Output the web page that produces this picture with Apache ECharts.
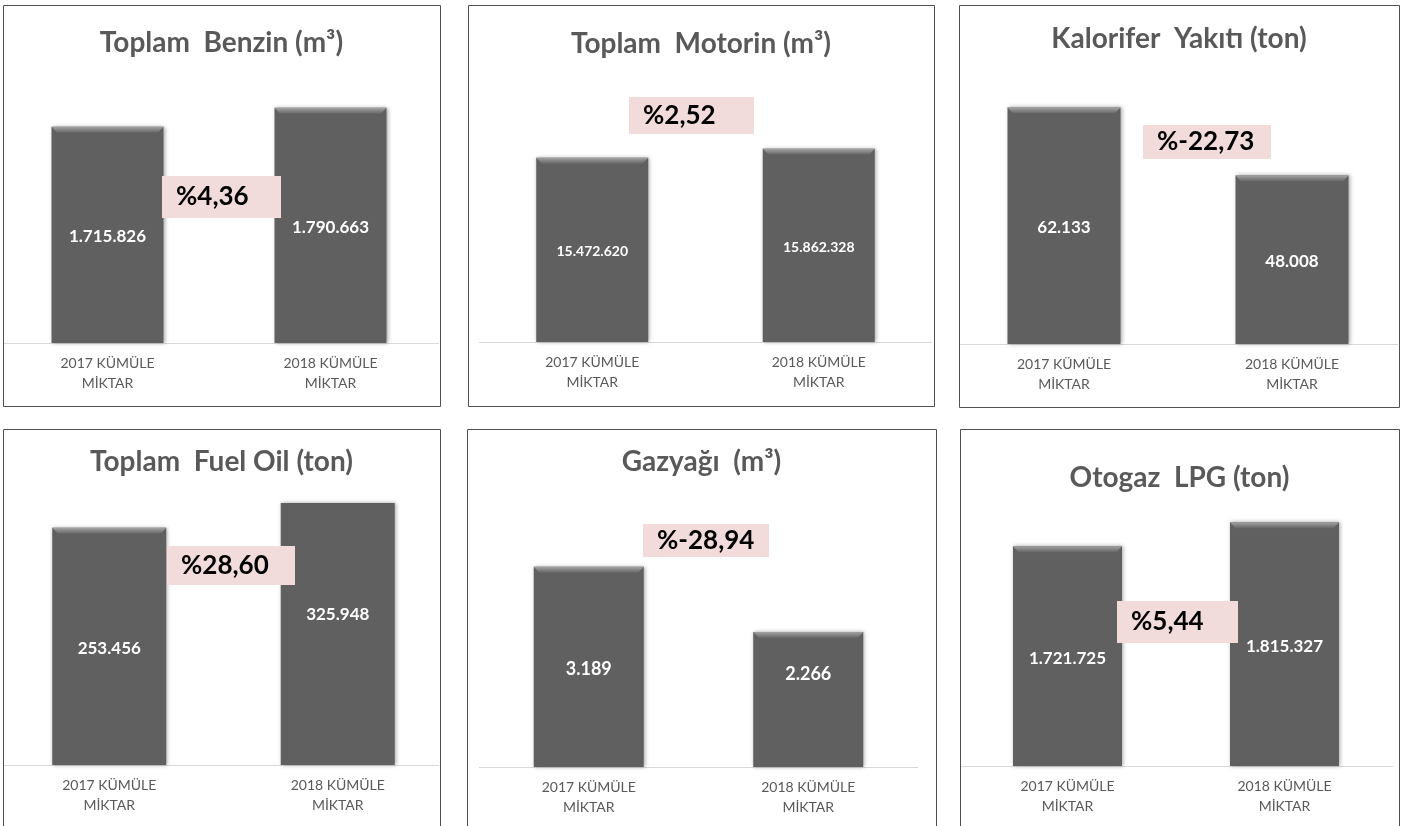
<!DOCTYPE html>
<html>
<head>
<meta charset="utf-8">
<script src="https://cdn.jsdelivr.net/npm/echarts@6/dist/echarts.min.js"></script>
<style>
html,body{margin:0;padding:0;background:#fff;}
#c{width:1419px;height:826px;}
</style>
</head>
<body>
<div id="c"></div>
<script>
// ---- data ----
const categories = ['2017 KÜMÜLE\nMİKTAR', '2018 KÜMÜLE\nMİKTAR'];
const titles = ['Toplam  Benzin (m³)', 'Toplam  Motorin (m³)', 'Kalorifer  Yakıtı (ton)',
                'Toplam  Fuel Oil (ton)', 'Gazyağı  (m³)', 'Otogaz  LPG (ton)'];
const benzin    = [1715826, 1790663];
const motorin   = [15472620, 15862328];
const kalorifer = [62133, 48008];
const fuelOil   = [253456, 325948];
const gazyagi   = [3189, 2266];
const otogaz    = [1721725, 1815327];
const seriesValues = [benzin, motorin, kalorifer, fuelOil, gazyagi, otogaz];

// ---- layout (positions / styles only) ----
const panels = [
  {border:[3,5,440,406],   base:343, gx:[-4,442],   top:60,  min:860000,  max:1980000,  barW:112, titleY:43,  lab:17, labOff:[2,2],   box:[162,176,281,218]},
  {border:[468,5,934,406], base:342, gx:[479,932],  top:60,  min:7500000, max:19700000, barW:112, titleY:44,  lab:14, labOff:[2,2],   box:[629,97,754,134]},
  {border:[959,5,1399,407],base:344, gx:[950,1406], top:60,  min:13000,   max:72000,    barW:113, titleY:39,  lab:17, labOff:[2,2],   box:[1143,125,1271,159]},
  {border:[3,429,440,840], base:765, gx:[-5,452],   top:503, min:0,       max:280000,   barW:114, titleY:462, lab:17, labOff:[2,2],   box:[167,546,295,585]},
  {border:[467,429,936,840],base:767,gx:[479,918],  top:480, min:350,     max:4420,     barW:110, titleY:462, lab:18, labOff:[2,-25], box:[643,524,769,557]},
  {border:[960,429,1399,840],base:766,gx:[959,1393],top:480, min:864000,  max:1980000,  barW:109, titleY:478, lab:17, labOff:[2,2],   box:[1117,601,1238,643]}
];

const FONT = 'Lato, "Open Sans", sans-serif';
const fmt = v => String(v).replace(/\B(?=(\d{3})+(?!\d))/g, '.');
const pct = d => '%' + ((d[1] / d[0] - 1) * 100).toFixed(2).replace('.', ',');

const grid = [], xAxis = [], yAxis = [], series = [], graphic = [];
panels.forEach((p, i) => {
  const data = seriesValues[i];
  const overflow = data.some(v => v > p.max);
  grid.push({left: p.gx[0], width: p.gx[1] - p.gx[0], top: p.top, height: p.base - p.top,
             outerBoundsMode: 'none', containLabel: false});
  xAxis.push({type: 'category', gridIndex: i, data: categories,
    axisLine: {show: false}, axisTick: {show: false},
    axisLabel: {color: '#595959', fontFamily: FONT, fontSize: 14, lineHeight: 20, margin: 10, interval: 0}});
  yAxis.push({type: 'value', gridIndex: i, min: p.min, max: p.max, show: false, splitLine: {show: false}});
  series.push({type: 'bar', xAxisIndex: i, yAxisIndex: i, data: data, barWidth: p.barW, clip: true,
    itemStyle: {color: '#606060', shadowBlur: 4, shadowColor: 'rgba(0,0,0,0.35)', shadowOffsetX: 1},
    silent: true, animation: false});
  // label carrier: full (unclipped) bar when a value runs past the axis top, so the label sits mid-bar
  series.push({type: 'bar', xAxisIndex: i, yAxisIndex: i,
    data: data.map((v, j) => ({value: v, label: {offset: [0, p.labOff[j]]}})),
    barWidth: p.barW, barGap: '-100%',
    clip: !overflow,
    itemStyle: {color: 'rgba(0,0,0,0)'},
    label: {show: true, position: 'inside', color: '#fff', fontFamily: FONT, fontWeight: 'bold', fontSize: p.lab,
            formatter: o => fmt(o.value)},
    silent: true, animation: false, z: 5});
  series.push({type: 'pictorialBar', xAxisIndex: i, yAxisIndex: i,
    data: data.map(v => v > p.max ? '-' : v),
    symbol: 'path://M0,0 L100,0 L95,10 L5,10 Z', symbolSize: [p.barW, 6], symbolPosition: 'end',
    symbolOffset: [0, 0],
    itemStyle: {color: {type: 'linear', x: 0, y: 0, x2: 0, y2: 1,
      colorStops: [{offset: 0, color: '#a4a4a4'}, {offset: 1, color: '#666666'}]}},
    silent: true, animation: false, z: 4});

  const [x1, y1, x2, y2] = p.border;
  graphic.push({type: 'rect', shape: {x: x1 + 0.5, y: y1 + 0.5, width: x2 - x1, height: y2 - y1},
    style: {fill: 'none', stroke: '#505050', lineWidth: 1}, z: 50, silent: true});
  const lx1 = Math.max(p.gx[0], x1 + 1), lx2 = Math.min(p.gx[1], x2 - 1);
  graphic.push({type: 'line', shape: {x1: lx1, y1: p.base + 0.5, x2: lx2, y2: p.base + 0.5},
    style: {stroke: '#d9d9d9', lineWidth: 1}, z: 1, silent: true});
  graphic.push({type: 'text', x: (x1 + x2) / 2, y: p.titleY,
    style: {text: titles[i], fill: '#595959', font: 'bold 28px ' + FONT, align: 'center', verticalAlign: 'middle'},
    z: 50, silent: true});
  const [bx1, by1, bx2, by2] = p.box;
  graphic.push({type: 'rect', shape: {x: bx1, y: by1, width: bx2 - bx1, height: by2 - by1},
    style: {fill: '#f2dcdb'}, z: 60, silent: true});
  graphic.push({type: 'text', x: bx1 + 14, y: (by1 + by2) / 2,
    style: {text: pct(data), fill: '#000', font: 'bold 26px ' + FONT, align: 'left', verticalAlign: 'middle'},
    z: 61, silent: true});
});

const chart = echarts.init(document.getElementById('c'), null, {renderer: 'canvas'});
chart.setOption({backgroundColor: '#fff', animation: false, grid, xAxis, yAxis, series, graphic});
</script>
</body>
</html>
